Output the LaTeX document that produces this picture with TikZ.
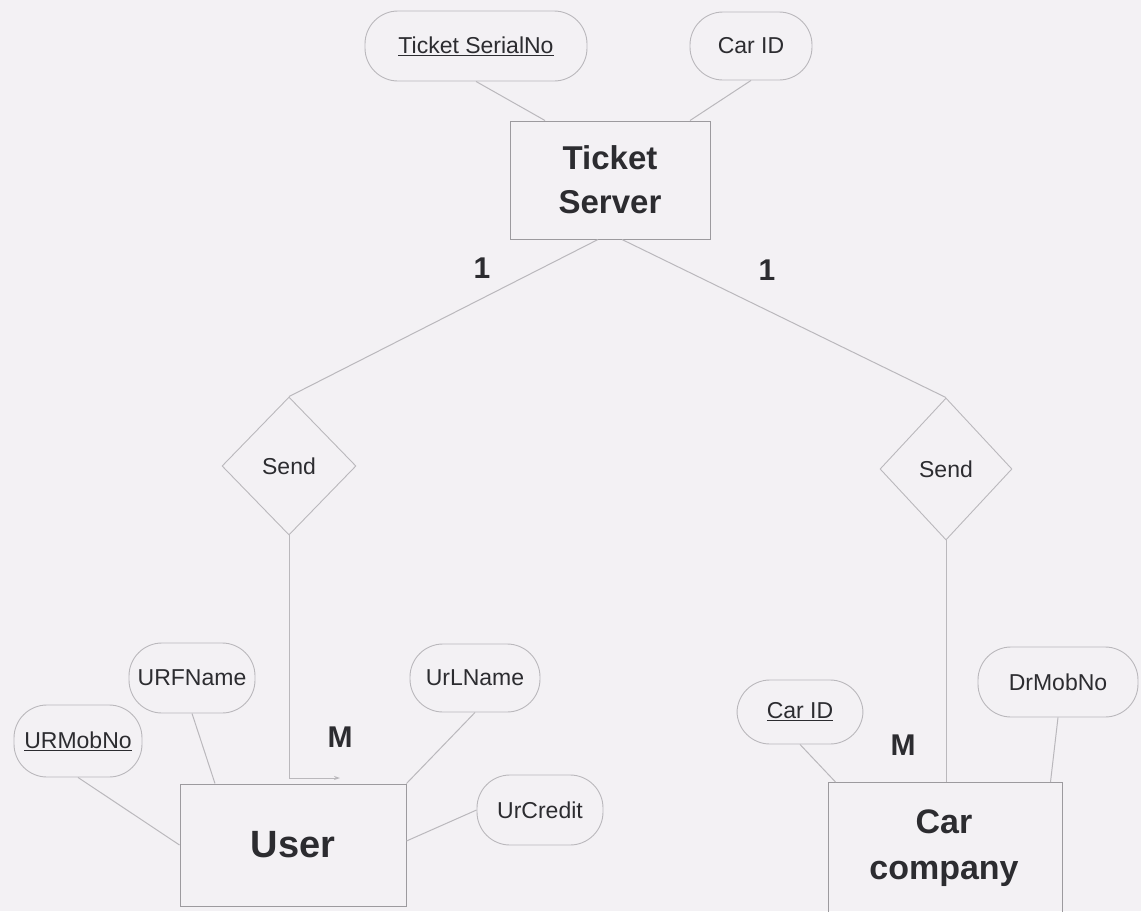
\documentclass[tikz,border=0pt]{standalone}
\usepackage{fontspec}
\setmainfont{Liberation Sans}
\usetikzlibrary{shapes.geometric,arrows.meta,calc}
\definecolor{bgc}{HTML}{F3F1F4}
\definecolor{linec}{HTML}{BAB8BC}
\definecolor{boxc}{HTML}{9C9A9E}
\definecolor{txtc}{HTML}{2C2C30}
\tikzset{
  attr/.style={draw=linec, line width=0.9pt, rounded corners=33pt, minimum height=70pt, inner sep=2pt, text=txtc, font=\fontsize{23}{26}\selectfont},
  ent/.style={draw=boxc, line width=1pt, rectangle, align=center, text=txtc, font=\bfseries\fontsize{33}{44}\selectfont},
  rel/.style={draw=linec, line width=0.9pt, diamond, inner sep=0pt, text=txtc, font=\fontsize{23}{26}\selectfont},
  conn/.style={draw=linec, line width=1pt},
  card/.style={text=txtc, font=\bfseries\fontsize{30}{32}\selectfont}
}
\begin{document}
\begin{tikzpicture}[x=1pt,y=-1pt]
\fill[bgc] (0,0) rectangle (1141,911);
\useasboundingbox (0,0) rectangle (1141,911);
\clip (0,0) rectangle (1141,911);
% entities
\node[ent, minimum width=200pt, minimum height=118pt] (ts) at (610,180) {Ticket\\Server};
\node[ent, minimum width=226pt, minimum height=122pt, font=\bfseries\fontsize{38}{40}\selectfont] (user) at (293,845) {User};
\node[ent, minimum width=234pt, minimum height=137pt] (car) at (945,851) {};
\node[text=txtc, font=\bfseries\fontsize{34}{46}\selectfont, align=center] (cartxt) at (944,848) {Car\\company};
% relationships
\node[rel, minimum width=134pt, minimum height=138pt] (send1) at (289,466) {Send};
\node[rel, minimum width=132pt, minimum height=142pt] (send2) at (946,469) {Send};
% attributes
\node[attr, minimum width=222pt] (tsn) at (476,46) {\underline{Ticket SerialNo}};
\node[attr, minimum width=122pt, minimum height=68pt] (cid) at (751,46) {Car ID};
\node[attr, minimum width=126pt] (urf) at (192,678) {URFName};
\node[attr, minimum width=128pt, minimum height=72pt] (urm) at (78,741) {\underline{URMobNo}};
\node[attr, minimum width=130pt, minimum height=68pt] (url) at (475,678) {UrLName};
\node[attr, minimum width=126pt] (urc) at (540,810) {UrCredit};
\node[attr, minimum width=126pt, minimum height=64pt] (cid2) at (800,712) {\underline{Car ID}};
\node[attr, minimum width=160pt] (drm) at (1058,682) {DrMobNo};
% cardinalities
\node[card] (c1) at (482,268) {1};
\node[card] (c2) at (767,270) {1};
\node[card] (m1) at (340,737) {M};
\node[card] (m2) at (903,745) {M};
% connectors
\draw[conn] (tsn.south) -- ([xshift=-65pt]ts.north);
\draw[conn] (cid.south) -- ([xshift=80pt]ts.north);
\draw[conn] ([xshift=-12pt]ts.south) -- (send1.north);
\draw[conn] ([xshift=12pt]ts.south) -- (send2.north);
\coordinate (ua) at (340,778);
\draw[conn, -{Stealth[length=6pt,width=4pt]}] (send1.south) |- (ua);
\draw[conn] (send2.south) -- (send2.south |- car.north);
\draw[conn] (urf.south) -- ([xshift=-78pt]user.north);
\draw[conn] (urm.south) -- (user.west);
\draw[conn] (url.south) -- (user.north east);
\draw[conn] (urc.west) -- ([yshift=4pt]user.east);
\draw[conn] (cid2.south) -- ([xshift=8pt]car.north west);
\draw[conn] (drm.south) -- ([xshift=-12pt]car.north east);
\end{tikzpicture}
\end{document}
